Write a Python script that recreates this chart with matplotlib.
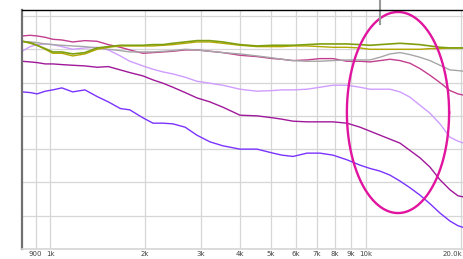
import matplotlib.pyplot as plt
import matplotlib.transforms as mtransforms
import numpy as np

# frequency grid (Hz)
freq = [815, 865, 910, 965, 1020, 1090, 1180, 1290, 1410, 1530, 1670, 1790, 1970,
        2120, 2280, 2450, 2680, 2920, 3210, 3530, 4000, 4530, 5090, 5430, 5890,
        6520, 7170, 7880, 8730, 9600, 10330, 11110, 11950, 12860, 13830, 14870,
        16000, 17210, 18510, 19620, 20510]

blue = [-11.4, -11.5, -11.7, -11.3, -11.1, -10.8, -11.4, -11.1, -12.1, -12.9, -13.9,
        -14.1, -15.3, -16.1, -16.1, -16.2, -16.7, -17.9, -18.9, -19.5, -20.0, -20.0,
        -20.6, -20.9, -21.1, -20.6, -20.6, -20.9, -21.6, -22.4, -22.9, -23.3, -23.9,
        -24.8, -25.8, -26.9, -28.2, -29.6, -30.8, -31.5, -31.8]

dark_magenta = [-6.8, -6.9, -7.0, -7.2, -7.2, -7.3, -7.4, -7.5, -7.7, -7.6, -8.1,
                -8.5, -9.0, -9.6, -10.1, -10.7, -11.5, -12.3, -12.9, -13.7, -14.9,
                -15.0, -15.3, -15.5, -15.8, -15.9, -15.9, -15.9, -16.1, -16.7, -17.3,
                -17.9, -18.5, -19.1, -20.2, -21.3, -22.7, -24.6, -26.1, -27.0, -27.2]

lavender = [-5.3, -4.6, -4.3, -4.2, -4.3, -4.6, -5.0, -4.8, -4.7, -5.1, -6.0, -6.8,
            -7.5, -8.0, -8.4, -8.7, -9.2, -9.8, -10.1, -10.4, -11.0, -11.3, -11.2,
            -11.1, -11.1, -11.0, -10.7, -10.4, -10.4, -10.7, -11.0, -11.0, -11.0,
            -11.4, -12.2, -13.4, -14.6, -16.2, -18.2, -18.8, -19.1]

pink = [-3.0, -2.9, -3.0, -3.2, -3.5, -3.6, -3.9, -3.7, -3.8, -4.3, -4.7, -5.1, -5.6,
        -5.5, -5.4, -5.3, -5.1, -5.1, -5.3, -5.5, -5.9, -6.1, -6.4, -6.5, -6.7, -6.6,
        -6.4, -6.4, -6.8, -6.8, -6.9, -6.7, -6.5, -6.7, -7.1, -7.9, -8.9, -10.0,
        -11.2, -11.7, -11.9]

gray = [-3.8, -3.9, -4.0, -4.2, -4.3, -4.4, -4.5, -4.6, -4.8, -5.0, -5.2, -5.4, -5.4,
        -5.4, -5.3, -5.2, -5.0, -5.1, -5.3, -5.5, -5.7, -6.0, -6.3, -6.5, -6.7, -6.8,
        -6.8, -6.7, -6.6, -6.6, -6.6, -6.2, -5.7, -5.5, -5.8, -6.2, -6.7, -7.4, -8.1,
        -8.2, -8.3]

olive = [-3.8, -4.1, -4.4, -5.0, -5.6, -5.6, -6.0, -5.7, -5.0, -4.7, -4.5, -4.5, -4.5,
         -4.5, -4.4, -4.3, -4.1, -3.9, -3.9, -4.1, -4.4, -4.6, -4.6, -4.6, -4.5, -4.5,
         -4.6, -4.7, -4.7, -4.8, -5.0, -5.0, -5.0, -5.0, -5.0, -5.0, -4.9, -4.9, -4.8,
         -4.8, -4.8]

green = [-3.8, -4.0, -4.4, -4.9, -5.4, -5.4, -5.7, -5.5, -4.8, -4.6, -4.4, -4.4, -4.4,
         -4.3, -4.3, -4.1, -3.9, -3.7, -3.7, -3.9, -4.3, -4.5, -4.4, -4.4, -4.4, -4.3,
         -4.2, -4.2, -4.2, -4.3, -4.4, -4.3, -4.2, -4.1, -4.2, -4.3, -4.5, -4.7, -4.8,
         -4.8, -4.8]

tick_freqs = [900, 1000, 2000, 3000, 4000, 5000, 6000, 7000, 8000, 9000, 10000, 20000]
tick_labels = ["900", "1k", "2k", "3k", "4k", "5k", "6k", "7k", "8k", "9k", "10k", "20.0k"]

# highlight ellipse (centre frequency, centre dB, half-width in decades, half-height in dB)
ell_f, ell_db, ell_a, ell_b = 12670, -14.5, 0.162, 15.1
marker_f = 11110

fig = plt.figure(figsize=(4.64, 2.59), dpi=100)
ax = fig.add_axes([22 / 464, 10 / 259, 1 - 22 / 464, 239 / 259])
ax.set_xscale("log")
ax.set_xlim(815, 20510)
ax.set_ylim(-35, 0.9)

ax.set_yticks(np.arange(-35, 1, 5))
ax.set_yticklabels([])
ax.set_xticks(tick_freqs)
ax.set_xticklabels(tick_labels, fontsize=5, color="#444444")
ax.xaxis.set_minor_locator(plt.NullLocator())
ax.tick_params(axis="both", length=0, pad=1.5)
ax.grid(True, color="#d6d6d6", lw=0.9)
ax.set_axisbelow(True)

# keep the last label inside the picture
last = ax.get_xticklabels()[-1]
last.set_ha("right")
last.set_transform(last.get_transform() + mtransforms.ScaledTranslation(2 / 100, 0, fig.dpi_scale_trans))

ax.spines["right"].set_visible(False)
ax.spines["top"].set_color("black")
ax.spines["top"].set_linewidth(1.0)
ax.spines["left"].set_color("#707070")
ax.spines["left"].set_linewidth(1.6)
ax.spines["bottom"].set_color("#d6d6d6")
ax.spines["bottom"].set_linewidth(1.2)

ax.plot(freq, blue, color="#7a33ff", lw=1.0)
ax.plot(freq, dark_magenta, color="#a0189a", lw=1.0)
ax.plot(freq, lavender, color="#cf9dff", lw=1.0)
ax.plot(freq, pink, color="#c23e8e", lw=1.0)
ax.plot(freq, gray, color="#a6a6a6", lw=1.0)
ax.plot(freq, olive, color="#b3a800", lw=1.0)
ax.plot(freq, green, color="#7f9f10", lw=1.2)

t = np.linspace(0, 2 * np.pi, 300)
ax.plot(10 ** (np.log10(ell_f) + ell_a * np.cos(t)), ell_db + ell_b * np.sin(t),
        color="#e0149e", lw=1.7, clip_on=False)

ax.plot([marker_f, marker_f], [-1.2, 2.4], color="#999999", lw=1.5, clip_on=False)

fig.savefig("out.png", dpi=100)
